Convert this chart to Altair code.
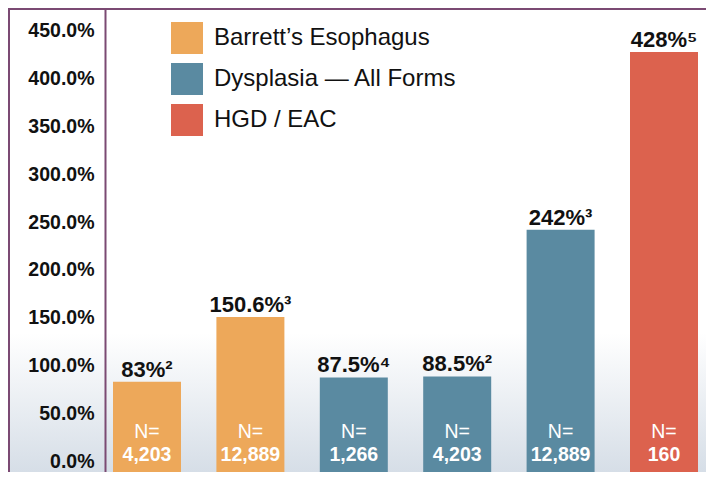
import altair as alt
import pandas as pd

# ---- data ----
bar_ids = ["b1", "b2", "b3", "b4", "b5", "b6"]
groups = ["Barrett’s Esophagus", "Barrett’s Esophagus", "Dysplasia — All Forms",
          "Dysplasia — All Forms", "Dysplasia — All Forms", "HGD / EAC"]
values = [83, 150.6, 87.5, 88.5, 242, 428]
value_labels = ["83%²", "150.6%³", "87.5%⁴", "88.5%²", "242%³", "428%⁵"]
n_labels = ["4,203", "12,889", "1,266", "4,203", "12,889", "160"]
tick_values = [0, 50, 100, 150, 200, 250, 300, 350, 400, 450]

legend_order = ["Barrett’s Esophagus", "Dysplasia — All Forms", "HGD / EAC"]
legend_colors = ["#EDA85A", "#5A8AA1", "#DC624E"]

df = pd.DataFrame({"id": bar_ids, "group": groups, "value": values,
                   "label": value_labels, "n": n_labels})
one = pd.DataFrame({"k": [0]})

W, H = 601, 463
Y_MIN, Y_MAX = -11.5, 473.0
PURPLE = "#7B4A73"
FONT = "Liberation Sans"

xenc = alt.X("id:N", axis=None, sort=bar_ids,
             scale=alt.Scale(paddingInner=0.3424, paddingOuter=0.0774))
yscale = alt.Scale(domain=[Y_MIN, Y_MAX], nice=False, zero=False)

grad = alt.Gradient(
    gradient="linear", x1=0, y1=0, x2=0, y2=1,
    stops=[alt.GradientStop(offset=0, color="#ffffff"),
           alt.GradientStop(offset=0.7, color="#ffffff"),
           alt.GradientStop(offset=1, color="#d6dee7")])

bg = alt.Chart(one).mark_rect(color=grad).encode(
    x=alt.value(-96), x2=alt.value(W), y=alt.value(0), y2=alt.value(H))

bars = alt.Chart(df).mark_bar().encode(
    x=xenc,
    y=alt.Y("value:Q", scale=yscale, title=None,
            axis=alt.Axis(values=tick_values, labelExpr="format(datum.value, '.1f') + '%'",
                          ticks=False, grid=False, domain=True, domainColor=PURPLE,
                          domainWidth=2, labelFont=FONT, labelFontSize=19.5,
                          labelFontWeight="bold", labelColor="#111111", labelPadding=11,
                          zindex=1)),
    y2=alt.datum(Y_MIN),
    color=alt.Color("group:N", scale=alt.Scale(domain=legend_order, range=legend_colors),
                    legend=alt.Legend(title=None, orient="none", legendX=66, legendY=13,
                                      symbolType="square", symbolSize=1024,
                                      symbolStrokeWidth=0, symbolOpacity=1,
                                      labelFont=FONT, labelFontSize=24, labelColor="#111111",
                                      labelOffset=11, rowPadding=9, padding=0,
                                      labelLimit=400)),
)

vals = alt.Chart(df).mark_text(baseline="alphabetic", dy=-5, font=FONT, fontSize=22,
                               fontWeight="bold", color="#111111").encode(
    x=xenc, y=alt.Y("value:Q", scale=yscale), text="label:N")

n_eq = alt.Chart(df).mark_text(baseline="middle", font=FONT, fontSize=19.5,
                               color="white").encode(
    x=xenc, y=alt.datum(30.3), text=alt.value("N="))

n_val = alt.Chart(df).mark_text(baseline="middle", font=FONT, fontSize=19.5,
                                fontWeight="bold", color="white").encode(
    x=xenc, y=alt.datum(6.0), text="n:N")

left_rule = alt.Chart(one).mark_rule(color=PURPLE, strokeWidth=2).encode(
    x=alt.value(-96), y=alt.value(0), y2=alt.value(H))
top_rule = alt.Chart(one).mark_rule(color=PURPLE, strokeWidth=2).encode(
    x=alt.value(-97), x2=alt.value(W), y=alt.value(0))

chart = alt.layer(bg, bars, vals, n_eq, n_val, left_rule, top_rule).resolve_scale(
    y="shared").properties(
    width=W, height=H,
    autosize=alt.AutoSizeParams(type="none"),
    padding={"left": 97, "top": 1, "right": 0, "bottom": 0},
    background="white",
).configure_view(stroke=None)

chart.save("out.html", embed_options={"renderer": "svg", "actions": False})
